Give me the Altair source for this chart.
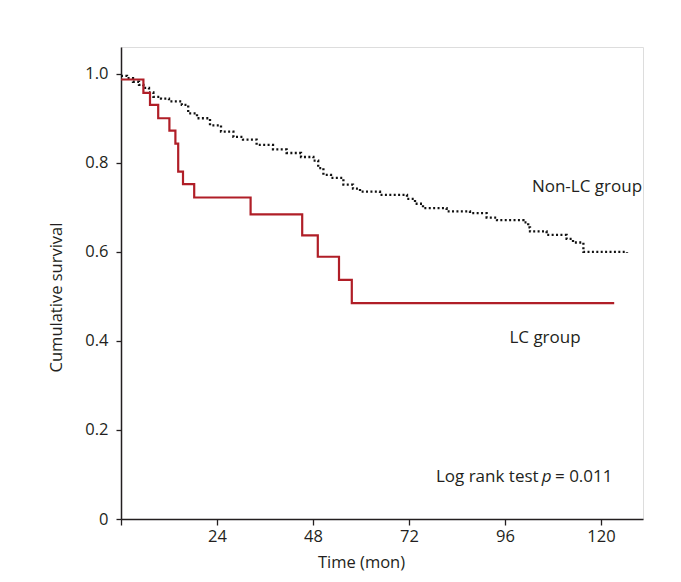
import altair as alt
import pandas as pd

# LC group (red step curve)
lc_time = [0, 5.6, 7.25, 9.3, 12.1, 13.6, 14.3, 15.5, 18.3, 32.4, 45.3, 49.2, 54.5, 57.7, 123.3]
lc_surv = [0.987, 0.957, 0.930, 0.900, 0.872, 0.843, 0.780, 0.752, 0.722, 0.684, 0.637, 0.589, 0.537, 0.485, 0.485]

# Non-LC group (black dotted step curve)
nonlc_time = [0, 1.5, 3, 4.5, 5.6, 7, 8.1, 10, 12, 15.2, 16.8, 19, 22.25, 25, 28.1, 30.5, 33.9,
              38, 41.4, 45, 48.1, 49.3, 50.6, 52.5, 55.6, 58, 59.75, 64.75, 71.5, 73.5, 75.5,
              81.4, 87.25, 91.4, 94, 100.6, 101.8, 102.25, 106.4, 111.4, 113, 115.6, 126.5]
nonlc_surv = [0.995, 0.990, 0.982, 0.975, 0.968, 0.958, 0.948, 0.944, 0.938, 0.930, 0.911, 0.900,
              0.884, 0.870, 0.858, 0.852, 0.840, 0.830, 0.822, 0.813, 0.805, 0.788, 0.773, 0.766,
              0.751, 0.742, 0.735, 0.728, 0.719, 0.708, 0.698, 0.691, 0.687, 0.677, 0.671, 0.666,
              0.655, 0.646, 0.638, 0.629, 0.621, 0.600, 0.598]

x_ticks = [0, 24, 48, 72, 96, 120]
y_ticks = [0, 0.2, 0.4, 0.6, 0.8, 1.0]

# annotations: text, x (months), y (survival), align, style
ann_text = ["Non-LC group", "LC group", "Log rank test", "p", "= 0.011"]
ann_x = [116.5, 106, 104.4, 106.4, 108.5]
ann_y = [0.746, 0.407, 0.094, 0.094, 0.094]
ann_align = ["center", "center", "right", "center", "left"]
ann_style = ["normal", "normal", "normal", "italic", "normal"]

FONT = "Open Sans"
INK = "#231f20"

lc_df = pd.DataFrame({"t": lc_time, "s": lc_surv})
nlc_df = pd.DataFrame({"t": nonlc_time, "s": nonlc_surv})
ann_df = pd.DataFrame({"text": ann_text, "x": ann_x, "y": ann_y, "align": ann_align, "style": ann_style})

xs = alt.Scale(domain=[0, 130.5], nice=False, zero=False)
ys = alt.Scale(domain=[0, 1.06], nice=False, zero=False)

x_axis = alt.Axis(values=x_ticks, labelExpr="datum.value == 0 ? '' : datum.label", title="Time (mon)",
                  grid=False, domainColor=INK, domainWidth=1.5, tickColor=INK, tickWidth=1.3, tickSize=6,
                  labelFont=FONT, labelFontSize=16.5, labelColor=INK, labelPadding=3,
                  titleFont=FONT, titleFontSize=16.5, titleFontWeight="normal", titleColor=INK,
                  titlePadding=10, titleX=240, titleAnchor="middle")
y_axis = alt.Axis(values=y_ticks, labelExpr="datum.value == 0 ? '0' : format(datum.value, '.1f')",
                  title="Cumulative survival", grid=False, domainColor=INK, domainWidth=1.5,
                  tickColor=INK, tickWidth=1.3, tickSize=5,
                  labelFont=FONT, labelFontSize=16.5, labelColor=INK, labelPadding=8,
                  titleFont=FONT, titleFontSize=16.5, titleFontWeight="normal", titleColor=INK,
                  titleX=-65, titleY=250, titleAngle=270, titleAlign="center", titleBaseline="middle")

base_nlc = alt.Chart(nlc_df).mark_line(interpolate="step-after", color="#111111", strokeWidth=2.3,
                                        strokeDash=[2, 2.4]).encode(
    x=alt.X("t:Q", scale=xs, axis=x_axis),
    y=alt.Y("s:Q", scale=ys, axis=y_axis),
)
lc = alt.Chart(lc_df).mark_line(interpolate="step-after", color="#b01e27", strokeWidth=2.2).encode(
    x=alt.X("t:Q", scale=xs),
    y=alt.Y("s:Q", scale=ys),
)

texts = []
for i in range(len(ann_text)):
    sub = ann_df.iloc[[i]]
    texts.append(alt.Chart(sub).mark_text(font=FONT, fontSize=17, color=INK, align=ann_align[i],
                                          baseline="middle", fontStyle=ann_style[i]).encode(
        x=alt.X("x:Q", scale=xs), y=alt.Y("y:Q", scale=ys), text="text:N"))

chart = alt.layer(base_nlc, lc, *texts).properties(
    width=522, height=472,
    padding={"left": 113, "top": 39, "right": 30, "bottom": 55},
    autosize="none",
).configure_view(stroke=None).configure(background="white")

chart.save("out.html", embed_options={"renderer": "svg", "actions": False})
